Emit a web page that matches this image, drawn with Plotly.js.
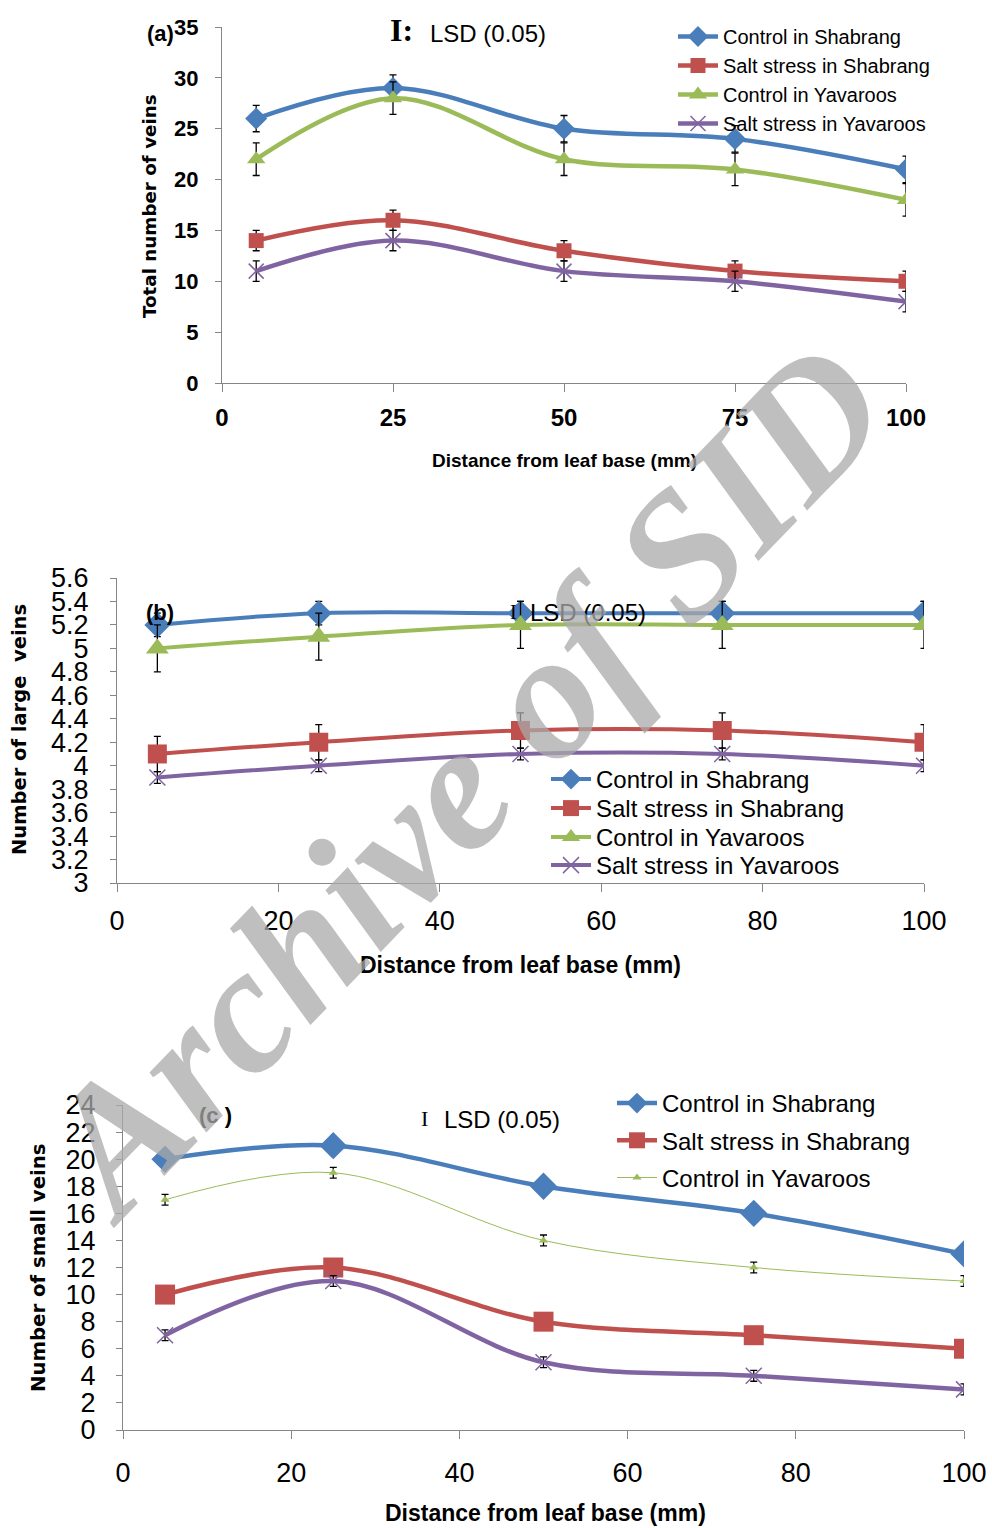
<!DOCTYPE html>
<html>
<head>
<meta charset="utf-8">
<script src="https://cdn.plot.ly/plotly-3.0.1.min.js"></script>
<style>html,body{margin:0;padding:0;background:#fff;}#chart{width:992px;height:1528px;}</style>
</head>
<body>
<div id="chart"></div>
<script>
// ---------- data ----------
const distance = [5, 25, 50, 75, 100];
const seriesNames = ['Control in Shabrang', 'Salt stress in Shabrang', 'Control in Yavaroos', 'Salt stress in Yavaroos'];

// (a) Total number of veins
const aControlShabrang = [26, 29, 25, 24, 21];
const aSaltShabrang    = [14, 16, 13, 11, 10];
const aControlYavaroos = [22, 28, 22, 21, 18];
const aSaltYavaroos    = [11, 14, 11, 10, 8];
const aErrControlShabrang = [1.3, 1.3, 1.3, 1.3, 1.3];
const aErrSaltShabrang    = [1, 1, 1, 1, 1];
const aErrControlYavaroos = [1.6, 1.6, 1.6, 1.6, 1.6];
const aErrSaltYavaroos    = [1, 1, 1, 1, 1];

// (b) Number of large veins
const bControlShabrang = [5.2, 5.3, 5.3, 5.3, 5.3];
const bSaltShabrang    = [4.1, 4.2, 4.3, 4.3, 4.2];
const bControlYavaroos = [5.0, 5.1, 5.2, 5.2, 5.2];
const bSaltYavaroos    = [3.9, 4.0, 4.1, 4.1, 4.0];
const bErrControlShabrang = [0.1, 0.1, 0.1, 0.1, 0.1];
const bErrSaltShabrang    = [0.15, 0.15, 0.15, 0.15, 0.15];
const bErrControlYavaroos = [0.2, 0.2, 0.2, 0.2, 0.2];
const bErrSaltYavaroos    = [0.05, 0.05, 0.05, 0.05, 0.05];

// (c) Number of small veins
const cControlShabrang = [20, 21, 18, 16, 13];
const cSaltShabrang    = [10, 12, 8, 7, 6];
const cControlYavaroos = [17, 19, 14, 12, 11];
const cSaltYavaroos    = [7, 11, 5, 4, 3];
const cErrControlShabrang = [0.3, 0.3, 0.3, 0.3, 0.3];
const cErrSaltShabrang    = [0.3, 0.3, 0.3, 0.3, 0.3];
const cErrControlYavaroos = [0.4, 0.4, 0.4, 0.4, 0.4];
const cErrSaltYavaroos    = [0.4, 0.4, 0.4, 0.4, 0.4];

// ---------- styling ----------
const W = 992, H = 1528;
const px = v => v / W;
const py = v => 1 - v / H;
const BLUE = '#4A7EBB', RED = '#C0504D', GREEN = '#9BBB59', PURPLE = '#8064A2';
const SANS = '"Liberation Sans", Arial, sans-serif';
const VERDANA = '"DejaVu Sans", Verdana, sans-serif';
const SERIF = '"Liberation Serif", "Times New Roman", serif';

function trace(y, err, name, color, sym, msize, lw, xa, ya, legend, showleg, mline) {
  return {
    x: distance, y: y, name: name, type: 'scatter', mode: 'lines+markers',
    xaxis: xa, yaxis: ya, legend: legend, showlegend: showleg, legendgroup: legend + name,
    line: {color: color, width: lw, shape: 'spline', smoothing: 1},
    marker: {symbol: sym, size: msize, color: color, line: mline || {width: 0}},
    error_y: {type: 'data', array: err, visible: true, color: '#000', thickness: 1.3, width: 3.5}
  };
}
const xmark = {color: PURPLE, width: 1.5};

const data = [
  // (a)
  trace(aControlShabrang, aErrControlShabrang, seriesNames[0], BLUE, 'diamond', 17, 4.5, 'x', 'y', 'legend', true),
  trace(aSaltShabrang, aErrSaltShabrang, seriesNames[1], RED, 'square', 15, 4.5, 'x', 'y', 'legend', true),
  trace(aControlYavaroos, aErrControlYavaroos, seriesNames[2], GREEN, 'triangle-up', 16, 4.5, 'x', 'y', 'legend', true),
  trace(aSaltYavaroos, aErrSaltYavaroos, seriesNames[3], PURPLE, 'x-thin-open', 15, 4.5, 'x', 'y', 'legend', true, xmark),
  // (b)
  trace(bControlShabrang, bErrControlShabrang, seriesNames[0], BLUE, 'diamond', 20, 4, 'x2', 'y2', 'legend2', true),
  trace(bSaltShabrang, bErrSaltShabrang, seriesNames[1], RED, 'square', 19, 4, 'x2', 'y2', 'legend4', true),
  trace(bControlYavaroos, bErrControlYavaroos, seriesNames[2], GREEN, 'triangle-up', 20, 4, 'x2', 'y2', 'legend5', true),
  trace(bSaltYavaroos, bErrSaltYavaroos, seriesNames[3], PURPLE, 'x-thin-open', 16, 4, 'x2', 'y2', 'legend6', true, xmark),
  // (c)
  trace(cControlShabrang, cErrControlShabrang, seriesNames[0], BLUE, 'diamond', 21, 4.5, 'x3', 'y3', 'legend3', true),
  trace(cSaltShabrang, cErrSaltShabrang, seriesNames[1], RED, 'square', 20, 4.5, 'x3', 'y3', 'legend3', true),
  trace(cControlYavaroos, cErrControlYavaroos, seriesNames[2], GREEN, 'triangle-up', 8, 1, 'x3', 'y3', 'legend3', true),
  trace(cSaltYavaroos, cErrSaltYavaroos, seriesNames[3], PURPLE, 'x-thin-open', 16, 4.5, 'x3', 'y3', 'legend3', false, xmark)
];

function xaxis(dom, anchor, dtick, font, standoff) {
  return {domain: dom, anchor: anchor, range: [0, 100], dtick: dtick, tick0: 0,
    showgrid: false, zeroline: false, showline: true, linecolor: '#868686', linewidth: 1,
    ticks: 'outside', ticklen: 8, tickcolor: '#868686', tickfont: font, ticklabelstandoff: standoff, fixedrange: true};
}
function yaxis(dom, anchor, range, dtick, font, standoff) {
  return {domain: dom, anchor: anchor, range: range, dtick: dtick, tick0: range[0],
    showgrid: false, zeroline: false, showline: true, linecolor: '#868686', linewidth: 1,
    ticks: 'outside', ticklen: 6, tickcolor: '#868686', tickfont: font, ticklabelstandoff: standoff, fixedrange: true};
}

function legend(x, y, size, gap) {
  return {x: px(x), y: py(y), xref: 'paper', yref: 'paper', xanchor: 'left', yanchor: 'top',
    bgcolor: 'rgba(0,0,0,0)', borderwidth: 0, font: {family: SANS, size: size, color: '#000'},
    tracegroupgap: gap, itemwidth: 40};
}

function ann(text, x, y, font, extra) {
  return Object.assign({text: text, x: px(x), y: py(y), xref: 'paper', yref: 'paper',
    showarrow: false, font: font, xanchor: 'center', yanchor: 'middle'}, extra || {});
}

const tickB = {family: SANS, size: 27, color: '#000'};
const layout = {
  width: W, height: H, margin: {l: 0, r: 0, t: 0, b: 0},
  paper_bgcolor: '#fff', plot_bgcolor: 'rgba(0,0,0,0)', showlegend: true,
  xaxis:  xaxis([px(222), px(906)], 'y', 25, {family: SANS, size: 24, color: '#000', weight: 'bold'}, 5),
  yaxis:  yaxis([py(383), py(27)], 'x', [0, 35], 5, {family: SANS, size: 22, color: '#000', weight: 'bold'}, 12),
  xaxis2: xaxis([px(117), px(924)], 'y2', 20, tickB, 6),
  yaxis2: yaxis([py(883), py(578)], 'x2', [3, 5.6], 0.2, tickB, 16),
  xaxis3: xaxis([px(123), px(964)], 'y3', 20, tickB, 11),
  yaxis3: yaxis([py(1430), py(1105)], 'x3', [0, 24], 2, tickB, 15),
  legend:  legend(673, 17, 20, 0),
  legend2: legend(546, 757, 24, 0),
  legend4: legend(546, 786, 24, 0),
  legend5: legend(546, 815, 24, 0),
  legend6: legend(546, 843, 24, 0),
  legend3: legend(612, 1081, 24, 3),
  annotations: [
    // panel labels
    ann('<b>(a)</b>', 160, 33, {family: SANS, size: 22, color: '#000'}),
    ann('<b>(b)</b>', 160, 612, {family: SANS, size: 22, color: '#000'}),
    ann('<b>(c )</b>', 215, 1115, {family: SANS, size: 22, color: '#000'}),
    // LSD keys
    ann('<b>I:</b>', 401, 30, {family: SERIF, size: 32, color: '#000'}),
    ann('LSD (0.05)', 428, 34, {family: SANS, size: 24, color: '#000'}, {xanchor: 'left'}),
    ann('I', 513, 612, {family: SERIF, size: 20, color: '#000'}),
    ann('LSD (0.05)', 528, 612, {family: SANS, size: 24, color: '#000'}, {xanchor: 'left'}),
    ann('I', 424, 1118, {family: SERIF, size: 22, color: '#000'}),
    ann('LSD (0.05)', 442, 1119, {family: SANS, size: 24, color: '#000'}, {xanchor: 'left'}),
    // axis titles
    ann('<b>Distance from leaf base (mm)</b>', 564, 460, {family: SANS, size: 19, color: '#000'}),
    ann('<b>Distance from leaf base (mm)</b>', 520, 965, {family: SANS, size: 23, color: '#000'}),
    ann('<b>Distance from leaf base (mm)</b>', 545, 1513, {family: SANS, size: 23, color: '#000'}),
    ann('<b>Total number of veins</b>', 150, 206, {family: VERDANA, size: 18.3, color: '#000'}, {textangle: -90}),
    ann('<b>Number of large  veins</b>', 20, 730, {family: VERDANA, size: 19.5, color: '#000'}, {textangle: -90}),
    ann('<b>Number of small veins</b>', 38, 1268, {family: VERDANA, size: 19.7, color: '#000'}, {textangle: -90}),
    // watermark
    ann('<b><i>Archive of SID</i></b>', 462, 780, {family: SERIF, size: 180, color: 'rgba(170,170,170,0.75)'}, {textangle: -46})
  ]
};

Plotly.newPlot('chart', data, layout, {displayModeBar: false, staticPlot: true});
</script>
</body>
</html>
